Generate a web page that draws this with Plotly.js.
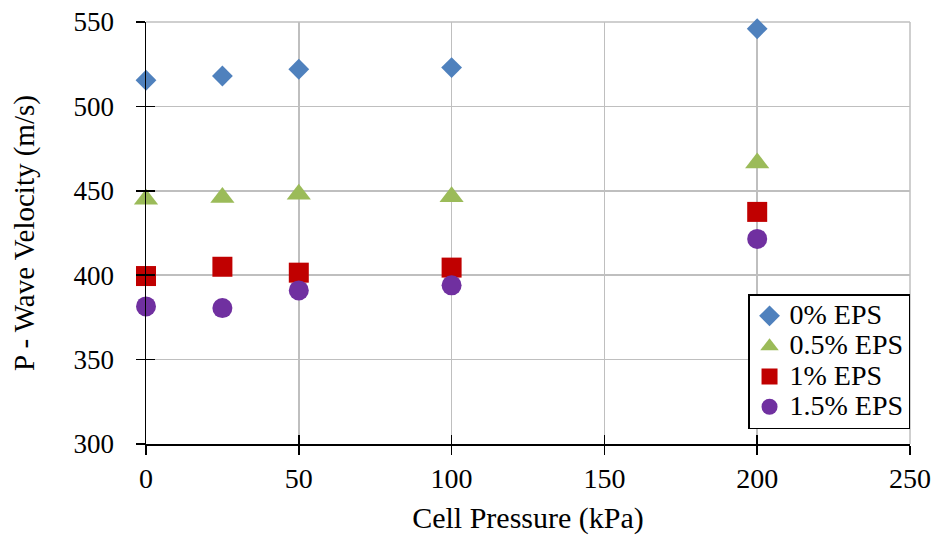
<!DOCTYPE html>
<html>
<head>
<meta charset="utf-8">
<script src="https://cdn.plot.ly/plotly-3.0.1.min.js"></script>
<style>html,body{margin:0;padding:0;background:#fff;}#chart{width:937px;height:535px;}</style>
</head>
<body>
<div id="chart"></div>
<script>
// Data
var cellPressure = [0, 25, 50, 100, 200];
var seriesNames = ["0% EPS", "0.5% EPS", "1% EPS", "1.5% EPS"];
var eps0  = [515.5, 518, 522, 523, 546];
var eps05 = [445, 446, 448, 446.5, 466.5];
var eps1  = [399.5, 405, 401.5, 404.5, 437.5];
var eps15 = [381.5, 380.5, 391, 394, 421.5];
var xTicks = [0, 50, 100, 150, 200, 250];
var yTicks = [300, 350, 400, 450, 500, 550];

var styles = [
  {symbol: "diamond", color: "#4F81BD", size: 16},
  {symbol: "triangle-up", color: "#9BBB59", size: 21},
  {symbol: "square", color: "#C00000", size: 20},
  {symbol: "circle", color: "#7030A0", size: 20}
];
var values = [eps0, eps05, eps1, eps15];

var font = "Liberation Serif";

var traces = values.map(function (v, i) {
  return {
    type: "scatter", mode: "markers", cliponaxis: false,
    x: cellPressure, y: v,
    name: '<span style="font-size:28px">' + seriesNames[i] + '</span>',
    marker: {symbol: styles[i].symbol, color: styles[i].color, size: styles[i].size, line: {width: 0}},
    hoverinfo: "x+y"
  };
});
// helper trace for the inner half of the crossing tick marks
traces.push({type: "scatter", mode: "markers", x: [null], y: [null], xaxis: "x2", yaxis: "y2",
  showlegend: false, hoverinfo: "skip"});

var layout = {
  width: 937, height: 535,
  margin: {l: 146, r: 27, t: 22, b: 91},
  paper_bgcolor: "#fff", plot_bgcolor: "#fff",
  font: {family: font, color: "#000", size: 27},
  showlegend: true,
  legend: {
    x: 0.788, y: 0.355, xanchor: "left", yanchor: "top",
    bgcolor: "#fff", bordercolor: "#000", borderwidth: 1.5,
    font: {family: font, size: 21, color: "#000"},
    tracegroupgap: 0, entrywidth: 130, entrywidthmode: "pixels"
  },
  shapes: [
    {type: "line", xref: "paper", yref: "paper", x0: 0, x1: 1, y0: 1, y1: 1, layer: "below",
      line: {color: "#BFBFBF", width: 1.5}},
    {type: "line", xref: "paper", yref: "paper", x0: 1, x1: 1, y0: 0, y1: 1, layer: "below",
      line: {color: "#BFBFBF", width: 1.5}}
  ],
  xaxis: {
    range: [0, 250], tickvals: xTicks, ticktext: xTicks.map(String),
    showgrid: true, gridcolor: "#BFBFBF", gridwidth: 1.5,
    showline: true, linecolor: "#000", linewidth: 1.5,
    ticks: "outside", ticklen: 9, tickwidth: 1.5, tickcolor: "#000",
    zeroline: false, ticklabelstandoff: 0,
    tickfont: {family: font, size: 28, color: "#000"},
    title: {text: "Cell Pressure (kPa)", font: {family: font, size: 30, color: "#000"}, standoff: 15}
  },
  yaxis: {
    range: [300, 550], tickvals: yTicks, ticktext: yTicks.map(String),
    showgrid: true, gridcolor: "#BFBFBF", gridwidth: 1.5,
    showline: true, linecolor: "#000", linewidth: 1.5,
    ticks: "outside", ticklen: 9, tickwidth: 1.5, tickcolor: "#000",
    zeroline: false, ticklabelstandoff: 16,
    tickfont: {family: font, size: 27, color: "#000"},
    title: {text: "P - Wave Velocity (m/s)", font: {family: font, size: 29, color: "#000"}, standoff: 30}
  },
  xaxis2: {
    overlaying: "x", anchor: "y", range: [0, 250], tickvals: xTicks,
    ticks: "inside", ticklen: 9, tickwidth: 1.5, tickcolor: "#000",
    showticklabels: false, showgrid: false, zeroline: false, showline: false, side: "bottom"
  },
  yaxis2: {
    overlaying: "y", anchor: "x", range: [300, 550], tickvals: yTicks,
    ticks: "inside", ticklen: 9, tickwidth: 1.5, tickcolor: "#000",
    showticklabels: false, showgrid: false, zeroline: false, showline: false, side: "left"
  }
};

Plotly.newPlot("chart", traces, layout, {displayModeBar: false, staticPlot: true});
</script>
</body>
</html>
